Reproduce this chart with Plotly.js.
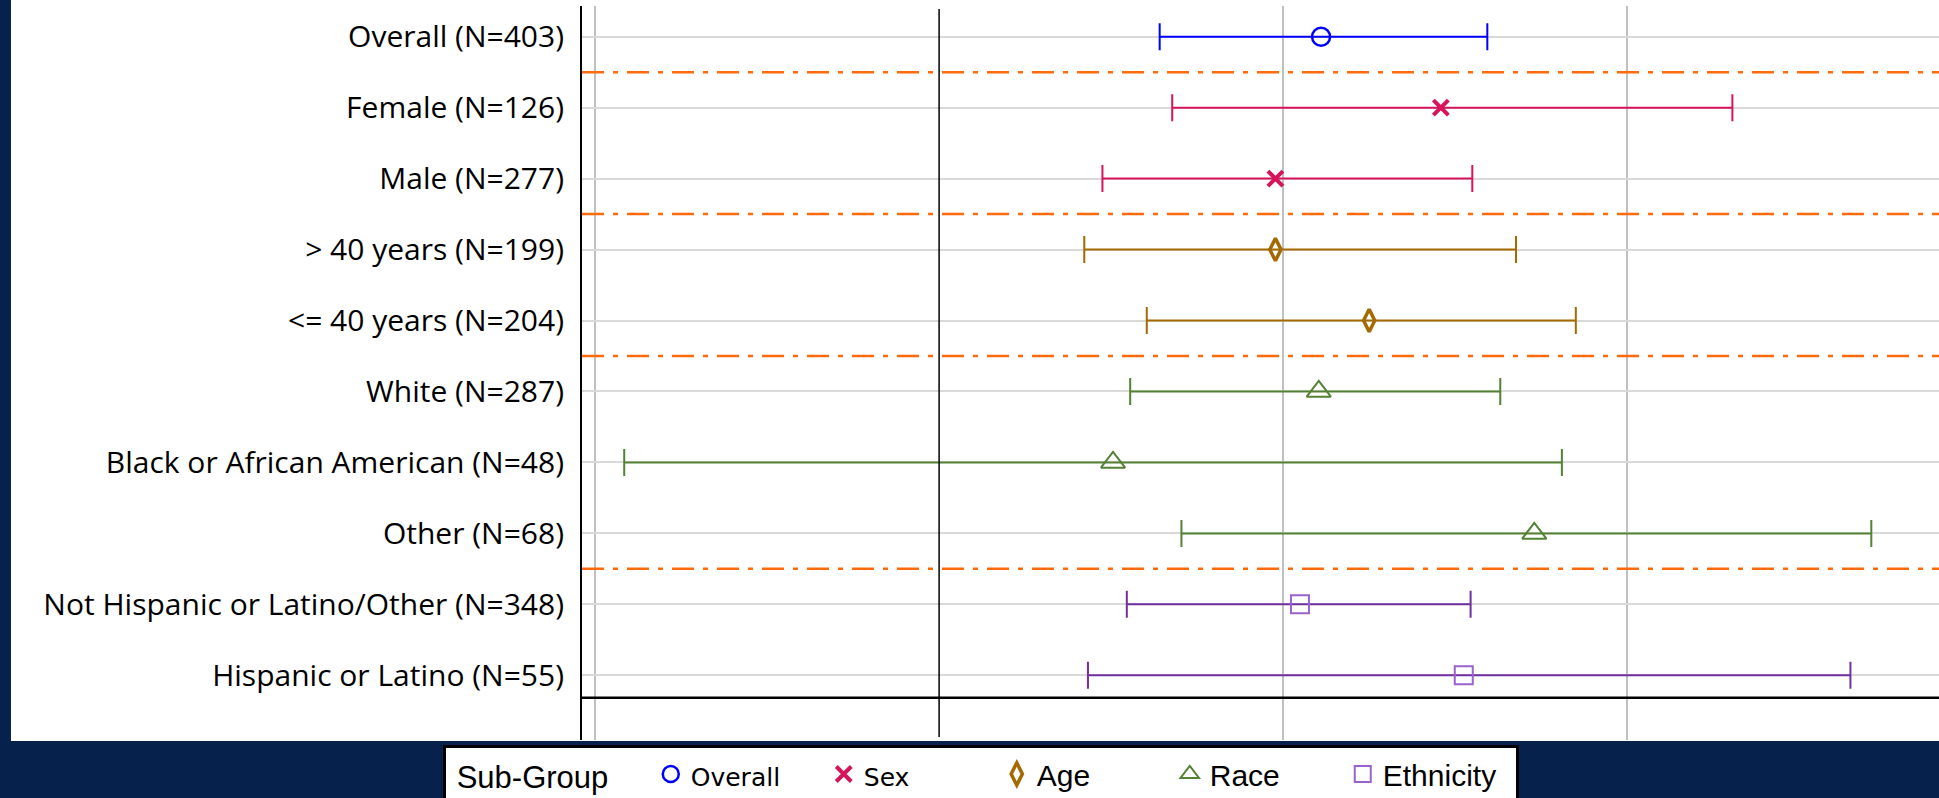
<!DOCTYPE html>
<html>
<head>
<meta charset="utf-8">
<script src="https://cdn.plot.ly/plotly-3.0.1.min.js"></script>
<style>
  html, body { margin: 0; padding: 0; background: #06214B; }
  #chart { width: 1939px; height: 798px; }
</style>
</head>
<body>
<div id="chart"></div>
<script>
// ---- data (odds-ratio style estimates, log axis) ----
const rowLabels = [
  'Overall (N=403)',
  'Female (N=126)',
  'Male (N=277)',
  '> 40 years (N=199)',
  '<= 40 years (N=204)',
  'White (N=287)',
  'Black or African American (N=48)',
  'Other (N=68)',
  'Not Hispanic or Latino/Other (N=348)',
  'Hispanic or Latino (N=55)'
];
const rowGroup = ['Overall', 'Sex', 'Sex', 'Age', 'Age', 'Race', 'Race', 'Race', 'Ethnicity', 'Ethnicity'];
const estimate = [2.16, 2.75, 1.97, 1.97, 2.38, 2.15, 1.42, 3.32, 2.07, 2.88];
const lowerCI  = [1.56, 1.60, 1.39, 1.34, 1.52, 1.47, 0.53, 1.63, 1.46, 1.35];
const upperCI  = [3.02, 4.95, 2.93, 3.20, 3.61, 3.10, 3.51, 6.55, 2.92, 6.28];

const groupNames  = ['Overall', 'Sex', 'Age', 'Race', 'Ethnicity'];
const legendTitle = 'Sub-Group';
const gridValues  = [0.5, 2, 4];
const referenceValue = 1;

// ---- styles ----
const groupStyle = {
  Overall:   {color: '#0000FF', symbol: 'circle-open',       size: 18, lw: 2.5, font: 'DejaVu Sans'},
  Sex:       {color: '#D6145C', symbol: 'x-thin-open',       size: 15, lw: 4,   font: 'DejaVu Sans'},
  Age:       {color: '#A46A00', symbol: 'diamond-tall-open', size: 16, lw: 3.5, font: null},
  Race:      {color: '#548235', symbol: 'triangle-up-open',  size: 21, lw: 2,   font: null},
  Ethnicity: {color: '#7030A0', symbol: 'square-open',       size: 18, lw: 2,   font: null}
};
const markerLineColor = {Ethnicity: '#9A62CC'};

const traces = groupNames.map(g => {
  const idx = rowLabels.map((_, i) => i).filter(i => rowGroup[i] === g);
  const st = groupStyle[g];
  const nm = st.font ? '<span style="font-family:' + st.font + ';font-size:25px">' + g + '</span>' : g;
  return {
    type: 'scatter',
    mode: 'markers',
    name: nm,
    x: idx.map(i => estimate[i]),
    y: idx.map(i => rowLabels[i]),
    marker: {
      symbol: st.symbol, size: st.size, color: markerLineColor[g] || st.color,
      line: {color: markerLineColor[g] || st.color, width: st.lw}
    },
    error_x: {
      type: 'data', symmetric: false,
      array: idx.map(i => upperCI[i] - estimate[i]),
      arrayminus: idx.map(i => estimate[i] - lowerCI[i]),
      color: st.color, thickness: 2, width: 13.5
    },
    hoverinfo: 'x+y'
  };
});

const shapes = [];
// white panel behind labels and plot
shapes.push({type: 'rect', xref: 'paper', yref: 'paper', x0: -0.4208, x1: 1.01, y0: -0.0015, y1: 1.01,
  fillcolor: '#FFFFFF', line: {width: 0}, layer: 'below'});
// reference line
shapes.push({type: 'line', xref: 'x', yref: 'y domain', x0: referenceValue, x1: referenceValue, y0: 0.004, y1: 0.996,
  line: {color: '#000000', width: 1.5}, layer: 'above'});
// dividers between groups
for (let i = 0; i < rowGroup.length - 1; i++) {
  if (rowGroup[i] !== rowGroup[i + 1]) {
    shapes.push({type: 'line', xref: 'paper', yref: 'y', x0: 0, x1: 1, y0: i + 0.5, y1: i + 0.5,
      line: {color: '#FF6A0D', width: 2.5, dash: '22px,9px,5px,9px'}, layer: 'above'});
  }
}
// bottom axis line
shapes.push({type: 'line', xref: 'paper', yref: 'paper', x0: 0, x1: 1, y0: 0.0576, y1: 0.0576,
  line: {color: '#000000', width: 2.5}, layer: 'above'});

const NB = '\u00a0';
const layout = {
  width: 1939, height: 798,
  paper_bgcolor: '#06214B',
  plot_bgcolor: 'rgba(0,0,0,0)',
  margin: {l: 582, r: 0, t: 6, b: 58, pad: 0, autoexpand: false},
  showlegend: true,
  xaxis: {
    type: 'log', range: [-0.31268, 0.87551],
    tickvals: gridValues, showticklabels: false, ticks: '',
    showgrid: true, gridcolor: '#C0C0C0', gridwidth: 2,
    zeroline: false, showline: false, fixedrange: true
  },
  yaxis: {
    type: 'category', categoryorder: 'array', categoryarray: rowLabels,
    range: [9.912, -0.4326],
    showgrid: true, gridcolor: '#D9D9D9', gridwidth: 2,
    showline: true, linecolor: '#000000', linewidth: 2,
    ticks: '', ticklabelstandoff: 10,
    tickfont: {family: 'Open Sans', size: 30, color: '#000000'},
    zeroline: false, automargin: false, fixedrange: true
  },
  legend: {
    orientation: 'h', x: -0.1024, xanchor: 'left', y: -0.0068, yanchor: 'top',
    bgcolor: '#FFFFFF', bordercolor: '#000000', borderwidth: 3,
    font: {family: 'Liberation Sans, Arial', size: 30, color: '#000000'},
    title: {text: NB + legendTitle + NB + NB + NB + NB, side: 'left',
            font: {family: 'Liberation Sans, Arial', size: 31, color: '#000000'}},
    entrywidth: 128, entrywidthmode: 'pixels',
    traceorder: 'normal'
  },
  shapes: shapes
};

Plotly.newPlot('chart', traces, layout, {displayModeBar: false, staticPlot: true});
</script>
</body>
</html>
